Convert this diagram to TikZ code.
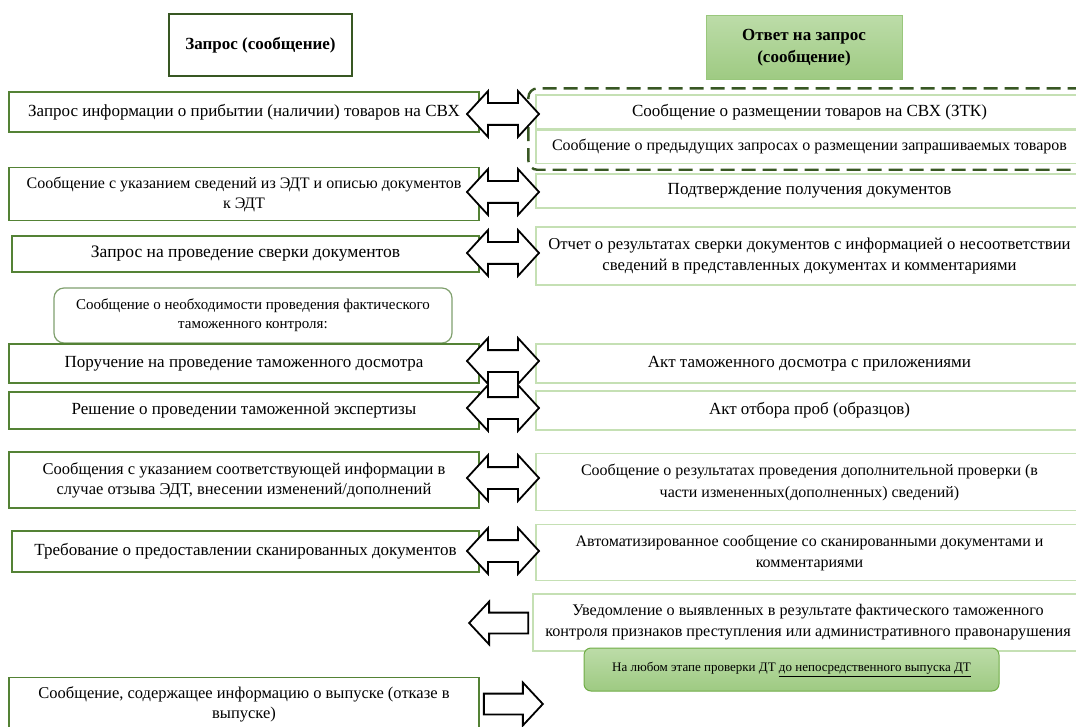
\documentclass[tikz,border=0pt]{standalone}
\usepackage{fontspec}
\setmainfont{Liberation Serif}
\usetikzlibrary{shapes.arrows}
\usetikzlibrary{positioning}
\usetikzlibrary{fit}

\definecolor{darkgreen}{HTML}{385723}
\definecolor{boxgreen}{HTML}{548235}
\definecolor{palegreen}{HTML}{C5E0B4}
\definecolor{midgreen}{HTML}{70AD47}
\definecolor{headtop}{HTML}{BCDCA8}
\definecolor{headbot}{HTML}{9ECA82}
\definecolor{greygreen}{RGB}{128,160,110}

\newcommand\fs[1]{\fontsize{#1}{20}\selectfont}

\begin{document}
\begin{tikzpicture}[x=1pt,y=-1pt,
    hbox/.style={draw=darkgreen,line width=2pt,minimum width=183pt,minimum height=62pt,font=\bfseries\fontsize{17}{20}\selectfont},
    ahead/.style={draw=headbot!90!midgreen,line width=1pt,top color=headtop,bottom color=headbot,minimum width=196pt,minimum height=64pt,align=center,font=\bfseries\fontsize{17}{22}\selectfont},
    qbox/.style={draw=boxgreen,line width=1.2pt,minimum width=470pt,align=center,inner sep=2pt,font=\fs{17}},
    abox/.style={draw=palegreen,line width=1.2pt,minimum width=547pt,align=center,inner sep=2pt,font=\fs{17}},
    grp/.style={draw=darkgreen,line width=2.4pt,dash pattern=on 14pt off 7pt,rounded corners=9pt,inner xsep=7pt,inner ysep=6pt},
    nbox/.style={draw=greygreen,line width=1.2pt,rounded corners=10pt,minimum width=398pt,minimum height=55pt,align=center,font=\fontsize{15}{19}\selectfont},
    note/.style={draw=midgreen,line width=1pt,rounded corners=7pt,top color=headtop,bottom color=headbot,minimum width=415pt,minimum height=43pt,font=\fontsize{13}{15}\selectfont},
    dblarr/.style={double arrow,draw,line width=1.8pt,fill=white,minimum height=72pt,inner xsep=0pt,inner ysep=10pt,double arrow head extend=12pt,double arrow tip angle=95},
    sglarr/.style={single arrow,draw,line width=1.8pt,fill=white,minimum height=59pt,inner xsep=0pt,inner ysep=9.5pt,single arrow head extend=11pt,single arrow tip angle=94}]
  \useasboundingbox (0,0) rectangle (1076,727);

  \node[hbox] (hq) at (260.5,45) {Запрос (сообщение)};
  \node[ahead] (ha) at (804,48) {Ответ на запрос\\(сообщение)};

  % left column
  \node[qbox,minimum height=40pt] (q1) at (244,112) {Запрос информации о прибытии (наличии) товаров на СВХ};
  \node[qbox,minimum height=53pt,font=\fs{16}] (q2) at (244,194) {Сообщение с указанием сведений из ЭДТ и описью документов\\к ЭДТ};
  \node[qbox,minimum height=36pt,minimum width=467pt,font=\fs{17.5}] (q3) at (245.5,254) {Запрос на проведение сверки документов};
  \node[nbox] (n1) at (253,315.5) {Сообщение о необходимости проведения фактического\\таможенного контроля:};
  \node[qbox,minimum height=39pt] (q4) at (244,363.5) {Поручение на проведение таможенного досмотра};
  \node[qbox,minimum height=37pt] (q5) at (244,410.5) {Решение о проведении таможенной экспертизы};
  \node[qbox,minimum height=56pt,font=\fs{16.5}] (q6) at (244,480) {Сообщения с указанием соответствующей информации в\\случае отзыва ЭДТ, внесении изменений/дополнений};
  \node[qbox,minimum height=41pt,minimum width=467pt] (q7) at (245.5,551.5) {Требование о предоставлении сканированных документов};
  \node[qbox,minimum height=53pt,font=\fs{16.5}] (q9) at (244,704) {Сообщение, содержащее информацию о выпуске (отказе в\\выпуске)};

  % right column
  \node[abox,minimum height=34pt] (r1a) at (809.5,112) {Сообщение о размещении товаров на СВХ (ЗТК)};
  \node[abox,minimum height=33pt,font=\fs{16},below=0pt of r1a] (r1b) {Сообщение о предыдущих запросах о размещении запрашиваемых товаров};
  \node[grp,fit=(r1a)(r1b)] (g1) {};
  \node[abox,minimum height=34pt] (r2) at (809.5,191) {Подтверждение получения документов};
  \node[abox,minimum height=58pt,font=\fontsize{16.7}{21}\selectfont] (r3) at (809.5,256) {Отчет о результатах сверки документов с информацией о несоответствии\\сведений в представленных документах и комментариями};
  \node[abox,minimum height=39pt] (r4) at (809.5,363.5) {Акт таможенного досмотра с приложениями};
  \node[abox,minimum height=39pt] (r5) at (809.5,410.5) {Акт отбора проб (образцов)};
  \node[abox,minimum height=57pt,font=\fontsize{16}{22}\selectfont] (r6) at (809.5,482) {Сообщение о результатах проведения дополнительной проверки (в\\части измененных(дополненных) сведений)};
  \node[abox,minimum height=56pt,font=\fontsize{16}{21}\selectfont] (r7) at (809.5,552.5) {Автоматизированное сообщение со сканированными документами и\\комментариями};
  \node[abox,minimum height=57pt,minimum width=550pt,font=\fontsize{16.2}{21}\selectfont] (r8) at (808,622.5) {Уведомление о выявленных в результате фактического таможенного\\контроля признаков преступления или административного правонарушения};
  \node[note] (n2) at (791.5,669.5) {На любом этапе проверки ДТ \underline{до непосредственного выпуска ДТ}};

  % arrows
  \foreach \n/\y in {1/114,2/192,3/253,4/361,5/408,6/478,7/551}
    \node[dblarr] (d\n) at (503,\y) {};
  \node[sglarr,shape border rotate=180] (s8) at (503.5,623) {};
  \node[sglarr] (s9) at (508.5,704) {};
\end{tikzpicture}
\end{document}
